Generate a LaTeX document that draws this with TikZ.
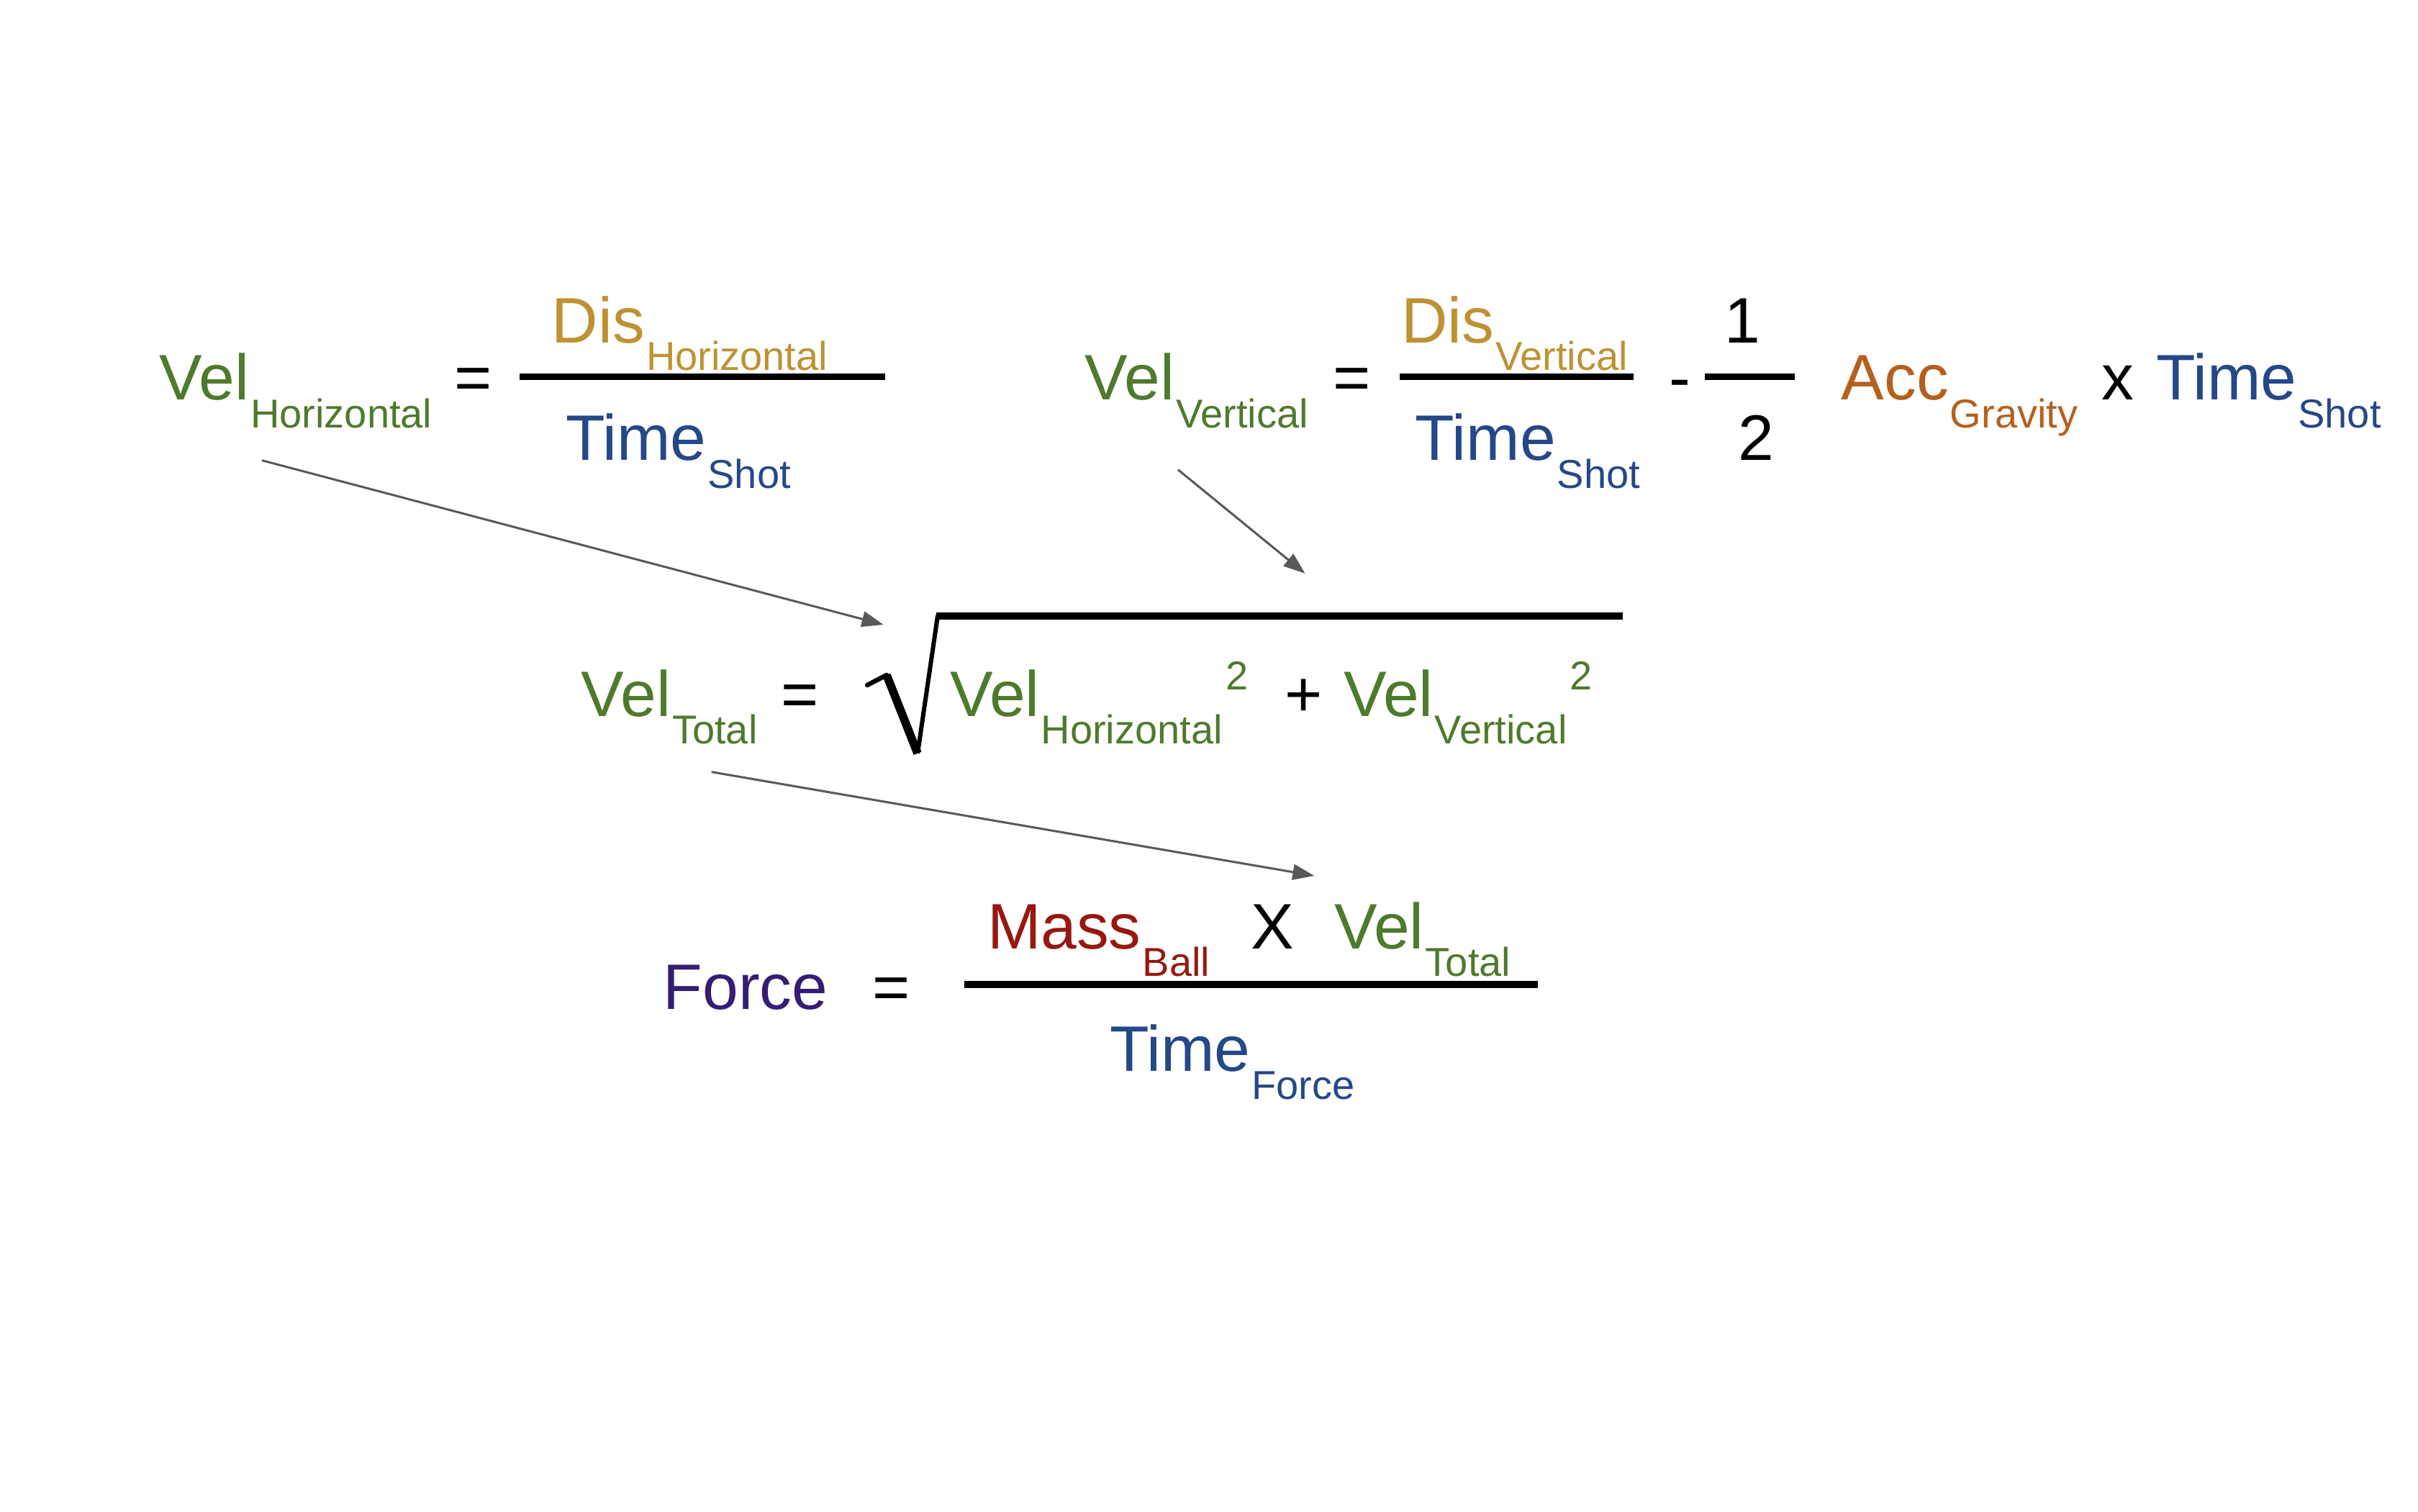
\documentclass[tikz,border=0pt]{standalone}
\usepackage{fontspec}
\setmainfont{Liberation Sans}
\usetikzlibrary{positioning,arrows.meta}
\definecolor{velgreen}{RGB}{78,122,44}
\definecolor{disgold}{RGB}{190,146,51}
\definecolor{timeblue}{RGB}{36,72,136}
\definecolor{accorange}{RGB}{180,96,30}
\definecolor{massred}{RGB}{150,24,16}
\definecolor{forcepurple}{RGB}{52,30,116}
\definecolor{arrowgray}{RGB}{89,89,89}
\tikzset{
  every node/.style={inner sep=0pt, outer sep=0pt, anchor=base west},
  big/.style={font=\fontsize{41.5}{48}\selectfont},
  small/.style={font=\fontsize{26}{30}\selectfont},
  sub/.style={small, base right=1pt of #1, yshift=-18pt},
  supr/.style={small, base right=2pt of #1, yshift=35pt},
  fracbar/.style={line width=4.5pt},
  conn/.style={draw=arrowgray, line width=1.4pt, -{Triangle[length=14pt,width=10pt]}}
}

\begin{document}
\begin{tikzpicture}[x=1pt, y=-1pt]
  \useasboundingbox (0,0) rectangle (1560,975);
  % velocity, horizontal
  \node[big, velgreen] (vh) at (103,258) {Vel};
  \node[sub=vh, velgreen] (vhs) {Horizontal};
  \node[big] (eqa) at (293,258) {=};
  \node[big, disgold] (dh) at (356,221) {Dis};
  \node[sub=dh, disgold] (dhs) {Horizontal};
  \node[big, timeblue] (tsa) at (365,297) {Time};
  \node[sub=tsa, timeblue] (tsas) {Shot};
  \draw[fracbar] (335,243) -- (571,243);
  % velocity, vertical
  \node[big, velgreen] (vv) at (700,258) {Vel};
  \node[sub=vv, velgreen] (vvs) {Vertical};
  \node[big] (eqb) at (860,258) {=};
  \node[big, disgold] (dv) at (904,221) {Dis};
  \node[sub=dv, disgold] (dvs) {Vertical};
  \node[big, timeblue] (tsb) at (913,297) {Time};
  \node[sub=tsb, timeblue] (tsbs) {Shot};
  \draw[fracbar] (903,243) -- (1054,243);
  \node[big] (minus) at (1077,258) {-};
  \node[big, anchor=base] (one) at (1124,221) {1};
  \node[big, anchor=base] (two) at (1133,297) {2};
  \draw[fracbar] (1100,243) -- (1158,243);
  \node[big, accorange] (acc) at (1188,258) {Acc};
  \node[sub=acc, accorange] (accs) {Gravity};
  \node[big] (times) at (1356,258) {x};
  \node[big, timeblue] (tsc) at (1391,258) {Time};
  \node[sub=tsc, timeblue] (tscs) {Shot};
  % total velocity
  \node[big, velgreen] (vt) at (375,462) {Vel};
  \node[sub=vt, velgreen] (vts) {Total};
  \node[big] (eqc) at (504,462) {=};
  \draw[line width=3pt, line cap=round] (559.5,442) -- (572,435.5);
  \draw[line width=5.4pt] (572,435.5) -- (592,486);
  \draw[line width=2.8pt] (592,486) -- (605,397);
  \draw[line width=4.6pt] (604,397.6) -- (1047,397.6);
  \node[big, velgreen] (rh) at (613,462) {Vel};
  \node[sub=rh, velgreen] (rhs) {Horizontal};
  \node[supr=rhs, velgreen] (rhp) {2};
  \node[big] (plus) at (829,462) {+};
  \node[big, velgreen] (rv) at (867,462) {Vel};
  \node[sub=rv, velgreen] (rvs) {Vertical};
  \node[supr=rvs, velgreen] (rvp) {2};
  % force
  \node[big, massred] (mb) at (637,612) {Mass};
  \node[sub=mb, massred] (mbs) {Ball};
  \node[big] (mul) at (807,612) {X};
  \node[big, velgreen] (vf) at (861,612) {Vel};
  \node[sub=vf, velgreen] (vfs) {Total};
  \draw[fracbar] (622,635) -- (992,635);
  \node[big, forcepurple] (fo) at (428,651) {Force};
  \node[big] (eqd) at (563,651) {=};
  \node[big, timeblue] (tf) at (716,691) {Time};
  \node[sub=tf, timeblue] (tfs) {Force};
  % arrows
  \coordinate (hs) at (169,297);
  \coordinate (he) at (570,403);
  \coordinate (vs) at (760,303);
  \coordinate (ve) at (842,370);
  \coordinate (ts) at (459,498);
  \coordinate (te) at (848,565);
  \draw[conn] (hs) -- (he);
  \draw[conn] (vs) -- (ve);
  \draw[conn] (ts) -- (te);
\end{tikzpicture}
\end{document}
